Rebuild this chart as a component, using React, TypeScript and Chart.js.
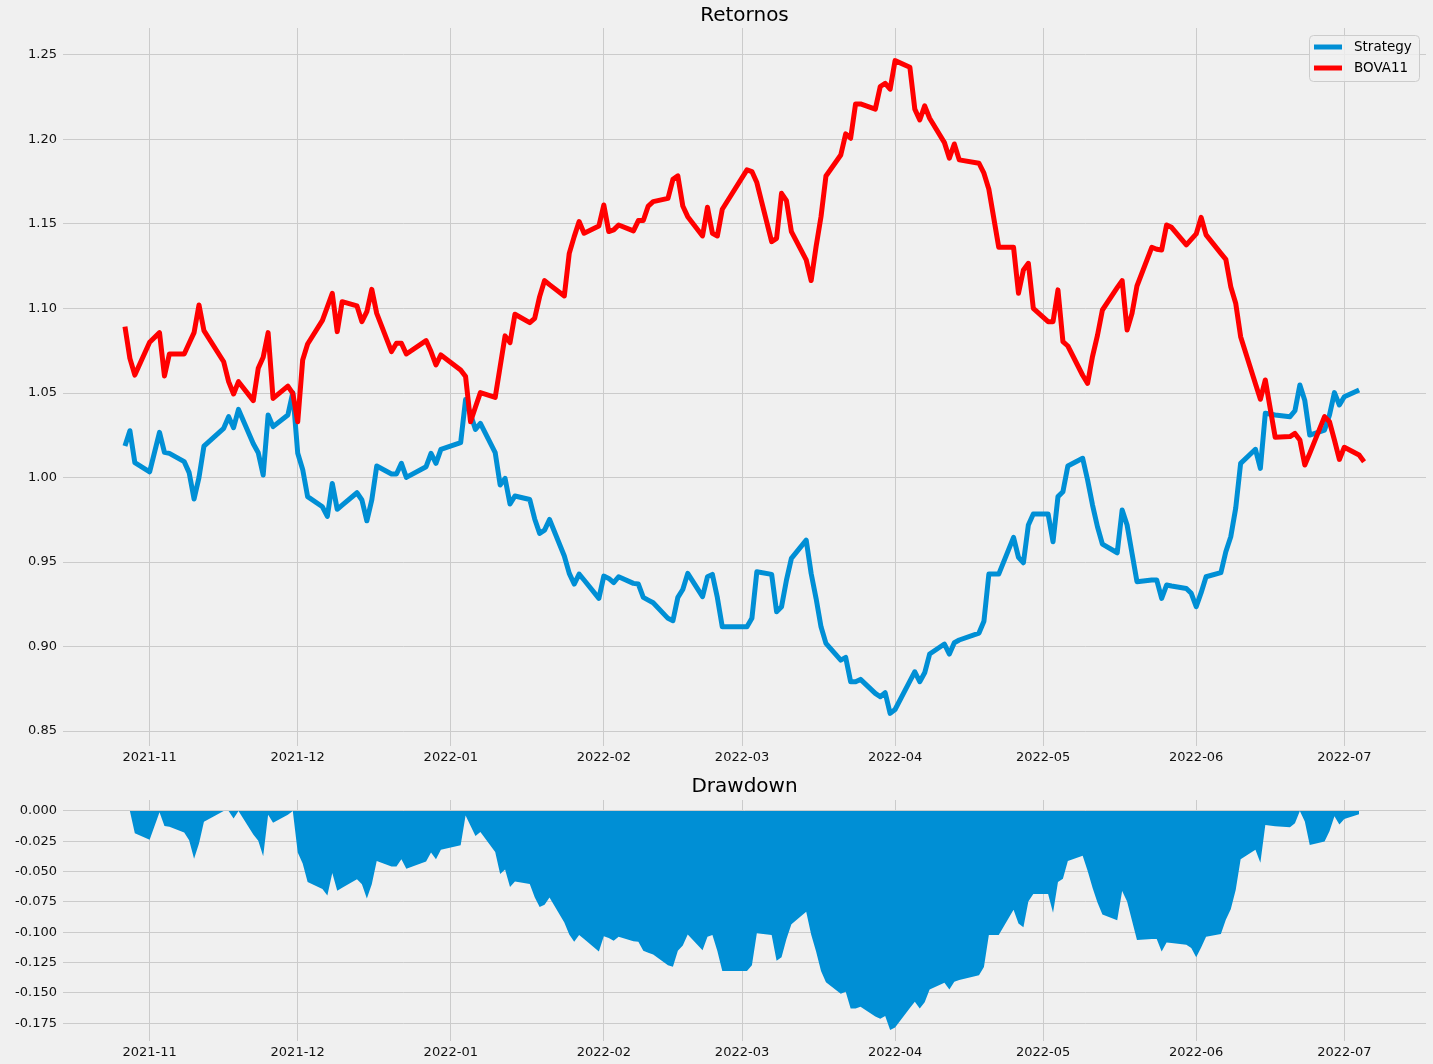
import React, { useEffect, useRef } from "react";
import { Chart, registerables } from "chart.js";

Chart.register(...registerables);

// ---- data (trading sessions) ----
const dates: string[] = [
  "2021-10-27", "2021-10-28", "2021-10-29",
  "2021-11-01", "2021-11-03", "2021-11-04", "2021-11-05", "2021-11-08", "2021-11-09", "2021-11-10", "2021-11-11", "2021-11-12",
  "2021-11-16", "2021-11-17", "2021-11-18", "2021-11-19", "2021-11-22", "2021-11-23", "2021-11-24", "2021-11-25", "2021-11-26",
  "2021-11-29", "2021-11-30",
  "2021-12-01", "2021-12-02", "2021-12-03", "2021-12-06", "2021-12-07", "2021-12-08", "2021-12-09", "2021-12-10", "2021-12-13",
  "2021-12-14", "2021-12-15", "2021-12-16", "2021-12-17", "2021-12-20", "2021-12-21", "2021-12-22", "2021-12-23", "2021-12-27",
  "2021-12-28", "2021-12-29", "2021-12-30",
  "2022-01-03", "2022-01-04", "2022-01-05", "2022-01-06", "2022-01-07", "2022-01-10", "2022-01-11", "2022-01-12", "2022-01-13",
  "2022-01-14", "2022-01-17", "2022-01-18", "2022-01-19", "2022-01-20", "2022-01-21", "2022-01-24", "2022-01-25", "2022-01-26",
  "2022-01-27", "2022-01-28", "2022-01-31",
  "2022-02-01", "2022-02-02", "2022-02-03", "2022-02-04", "2022-02-07", "2022-02-08", "2022-02-09", "2022-02-10", "2022-02-11",
  "2022-02-14", "2022-02-15", "2022-02-16", "2022-02-17", "2022-02-18", "2022-02-21", "2022-02-22", "2022-02-23", "2022-02-24",
  "2022-02-25",
  "2022-03-02", "2022-03-03", "2022-03-04", "2022-03-07", "2022-03-08", "2022-03-09", "2022-03-10", "2022-03-11", "2022-03-14",
  "2022-03-15", "2022-03-16", "2022-03-17", "2022-03-18", "2022-03-21", "2022-03-22", "2022-03-23", "2022-03-24", "2022-03-25",
  "2022-03-28", "2022-03-29", "2022-03-30", "2022-03-31",
  "2022-04-01", "2022-04-04", "2022-04-05", "2022-04-06", "2022-04-07", "2022-04-08", "2022-04-11", "2022-04-12", "2022-04-13",
  "2022-04-14", "2022-04-18", "2022-04-19", "2022-04-20", "2022-04-22", "2022-04-25", "2022-04-26", "2022-04-27", "2022-04-28",
  "2022-04-29",
  "2022-05-02", "2022-05-03", "2022-05-04", "2022-05-05", "2022-05-06", "2022-05-09", "2022-05-10", "2022-05-11", "2022-05-12",
  "2022-05-13", "2022-05-16", "2022-05-17", "2022-05-18", "2022-05-19", "2022-05-20", "2022-05-23", "2022-05-24", "2022-05-25",
  "2022-05-26", "2022-05-27", "2022-05-30", "2022-05-31",
  "2022-06-01", "2022-06-02", "2022-06-03", "2022-06-06", "2022-06-07", "2022-06-08", "2022-06-09", "2022-06-10", "2022-06-13",
  "2022-06-14", "2022-06-15", "2022-06-17", "2022-06-20", "2022-06-21", "2022-06-22", "2022-06-23", "2022-06-24", "2022-06-27",
  "2022-06-28", "2022-06-29", "2022-06-30",
  "2022-07-01", "2022-07-04", "2022-07-05",
];

const strategy: (number | null)[] = [
  1.0186, 1.0277, 1.0088,
  1.0034, 1.0267, 1.0149, 1.0143, 1.0094, 1.0029, 0.9873, 1.0001, 1.0186,
  1.0291, 1.0360, 1.0295, 1.0403, 1.0200, 1.0147, 1.0015, 1.0370, 1.0301,
  1.0370, 1.0502,
  1.0143, 1.0048, 0.9887, 0.9827, 0.9770, 0.9965, 0.9812, 0.9837, 0.9910,
  0.9867, 0.9744, 0.9867, 1.0068, 1.0021, 1.0021, 1.0084, 1.0001, 1.0064,
  1.0143, 1.0084, 1.0167,
  1.0206, 1.0462, 1.0374, 1.0285, 1.0320, 1.0147, 0.9956, 0.9995, 0.9843,
  0.9891, 0.9870, 0.9755, 0.9670, 0.9689, 0.9752, 0.9536, 0.9433, 0.9370,
  0.9429, 0.9394, 0.9285,
  0.9417, 0.9403, 0.9378, 0.9413, 0.9374, 0.9370, 0.9291, 0.9275, 0.9259,
  0.9167, 0.9153, 0.9291, 0.9338, 0.9433, 0.9295, 0.9413, 0.9427, 0.9290,
  0.9117,
  0.9117, 0.9167, 0.9443, 0.9427, 0.9206, 0.9236, 0.9393, 0.9522, 0.9630,
  0.9433, 0.9285, 0.9117, 0.9019, 0.8920, 0.8936, 0.8792, 0.8792, 0.8806,
  0.8723, 0.8703, 0.8727, 0.8605,
  0.8628, 0.8796, 0.8851, 0.8792, 0.8845, 0.8956, 0.9015, 0.8956, 0.9023,
  0.9039, 0.9080, 0.9150, 0.9429, 0.9429, 0.9646, 0.9528, 0.9496, 0.9719,
  0.9784,
  0.9784, 0.9620, 0.9887, 0.9916, 1.0068, 1.0114, 0.9985, 0.9837, 0.9709,
  0.9606, 0.9555, 0.9808, 0.9719, 0.9551, 0.9384, 0.9394, 0.9394, 0.9285,
  0.9364, 0.9358, 0.9344, 0.9315,
  0.9236, 0.9319, 0.9413, 0.9437, 0.9561, 0.9650, 0.9818, 1.0084, 1.0167,
  1.0054, 1.0380, 1.0370, 1.0360, 1.0395, 1.0547, 1.0455, 1.0251, 1.0281,
  1.0370, 1.0502, 1.0429,
  1.0478, 1.0518, null,
];

const bova11: number[] = [
  1.0892, 1.0705, 1.0606,
  1.0800, 1.0857, 1.0601, 1.0731, 1.0731, 1.0794, 1.0857, 1.1021, 1.0869,
  1.0685, 1.0567, 1.0494, 1.0567, 1.0455, 1.0646, 1.0711, 1.0857, 1.0468,
  1.0541, 1.0498,
  1.0330, 1.0695, 1.0790, 1.0930, 1.1010, 1.1090, 1.0863, 1.1040, 1.1015,
  1.0922, 1.0981, 1.1113, 1.0971, 1.0745, 1.0794, 1.0794, 1.0731, 1.0810,
  1.0745, 1.0666, 1.0725,
  1.0636, 1.0597, 1.0330, 1.0417, 1.0502, 1.0474, 1.0656, 1.0838, 1.0798,
  1.0966, 1.0916, 1.0942, 1.1070, 1.1165, 1.1141, 1.1074, 1.1326, 1.1425,
  1.1514, 1.1445, 1.1488,
  1.1612, 1.1455, 1.1465, 1.1494, 1.1459, 1.1520, 1.1520, 1.1606, 1.1632,
  1.1651, 1.1764, 1.1784, 1.1606, 1.1543, 1.1429, 1.1599, 1.1445, 1.1429,
  1.1587,
  1.1820, 1.1810, 1.1745, 1.1395, 1.1415, 1.1681, 1.1638, 1.1455, 1.1287,
  1.1165, 1.1366, 1.1543, 1.1784, 1.1908, 1.2033, 1.2007, 1.2210, 1.2210,
  1.2179, 1.2313, 1.2332, 1.2297,
  1.2466, 1.2427, 1.2179, 1.2115, 1.2198, 1.2125, 1.1981, 1.1889, 1.1973,
  1.1879, 1.1859, 1.1800, 1.1705, 1.1362, 1.1362, 1.1090, 1.1228, 1.1267,
  1.1001,
  1.0922, 1.0922, 1.1110, 1.0804, 1.0778, 1.0605, 1.0557, 1.0717, 1.0841,
  1.0991, 1.1123, 1.1165, 1.0873, 1.0971, 1.1133, 1.1362, 1.1350, 1.1346,
  1.1494, 1.1480, 1.1376, 1.1409,
  1.1441, 1.1539, 1.1435, 1.1326, 1.1291, 1.1129, 1.1031, 1.0833, 1.0555,
  1.0463, 1.0577, 1.0238, 1.0242, 1.0261, 1.0222, 1.0074, 1.0143, 1.0360,
  1.0330, 1.0222, 1.0107,
  1.0179, 1.0133, 1.0094,
];

const monthTicks: string[] = [
  "2021-11-01", "2021-12-01", "2022-01-01", "2022-02-01", "2022-03-01",
  "2022-04-01", "2022-05-01", "2022-06-01", "2022-07-01",
];
const returnTicks: number[] = [0.85, 0.9, 0.95, 1.0, 1.05, 1.1, 1.15, 1.2, 1.25];
const drawdownTicks: number[] = [0, -0.025, -0.05, -0.075, -0.1, -0.125, -0.15, -0.175];

// ---- helpers ----
const DAY = 86400000;
const toDay = (s: string) =>
  Date.UTC(+s.slice(0, 4), +s.slice(5, 7) - 1, +s.slice(8, 10)) / DAY;
const fmtMonth = (v: number) => {
  const d = new Date(Math.round(v) * DAY);
  return `${d.getUTCFullYear()}-${String(d.getUTCMonth() + 1).padStart(2, "0")}`;
};

const xs = dates.map(toDay);

// Drawdown of the Strategy curve (value / running peak - 1)
let peak = -Infinity;
const drawdown: (number | null)[] = strategy.map((v) => {
  if (v == null) return null;
  peak = Math.max(peak, v);
  return v / peak - 1;
});

// matplotlib-like 5% margins
const withMargin = (lo: number, hi: number) => {
  const m = (hi - lo) * 0.05;
  return [lo - m, hi + m];
};
const [xMin, xMax] = withMargin(xs[0], xs[xs.length - 1]);
const retVals = [...strategy, ...bova11].filter((v): v is number => v != null);
const [yMin, yMax] = withMargin(Math.min(...retVals), Math.max(...retVals));
const ddVals = drawdown.filter((v): v is number => v != null);
const [dMin, dMax] = withMargin(Math.min(0, ...ddVals), Math.max(0, ...ddVals));

const BLUE = "#008fd5";
const RED = "#ff0000";
const GRID = "#cbcbcb";
const FONT = "'DejaVu Sans', sans-serif";

Chart.defaults.font.family = FONT;
Chart.defaults.font.size = 13;
Chart.defaults.color = "#111";

const titlePlugin = (id: string, text: string, y: number) => ({
  id,
  afterDraw(chart: any) {
    const { ctx, chartArea } = chart;
    ctx.save();
    ctx.font = `20px ${FONT}`;
    ctx.fillStyle = "#000";
    ctx.textAlign = "center";
    ctx.textBaseline = "middle";
    ctx.fillText(text, (chartArea.left + chartArea.right) / 2, y);
    ctx.restore();
  },
});

const legendPlugin = {
  id: "boxLegend",
  afterDraw(chart: any) {
    const { ctx } = chart;
    const x = 1309.5, y = 35.5, w = 110, h = 46, r = 4;
    ctx.save();
    ctx.beginPath();
    ctx.moveTo(x + r, y);
    ctx.lineTo(x + w - r, y);
    ctx.quadraticCurveTo(x + w, y, x + w, y + r);
    ctx.lineTo(x + w, y + h - r);
    ctx.quadraticCurveTo(x + w, y + h, x + w - r, y + h);
    ctx.lineTo(x + r, y + h);
    ctx.quadraticCurveTo(x, y + h, x, y + h - r);
    ctx.lineTo(x, y + r);
    ctx.quadraticCurveTo(x, y, x + r, y);
    ctx.closePath();
    ctx.fillStyle = "rgba(240,240,240,0.8)";
    ctx.fill();
    ctx.strokeStyle = "#cccccc";
    ctx.lineWidth = 1;
    ctx.stroke();
    chart.data.datasets.forEach((ds: any, i: number) => {
      const ly = 47 + i * 21;
      ctx.beginPath();
      ctx.moveTo(1314, ly);
      ctx.lineTo(1342, ly);
      ctx.strokeStyle = ds.borderColor;
      ctx.lineWidth = 5;
      ctx.stroke();
      ctx.font = `13.5px ${FONT}`;
      ctx.fillStyle = "#000";
      ctx.textAlign = "left";
      ctx.textBaseline = "middle";
      ctx.fillText(ds.label, 1354, ly + 0.5);
    });
    ctx.restore();
  },
};

const xScale = (height: number) => ({
  type: "linear" as const,
  min: xMin,
  max: xMax,
  afterBuildTicks: (scale: any) => {
    scale.ticks = monthTicks.map((m) => ({ value: toDay(m) }));
  },
  afterFit: (scale: any) => {
    scale.height = height;
  },
  ticks: {
    autoSkip: false,
    maxRotation: 0,
    padding: 4,
    color: "#111",
    font: { size: 13 },
    callback: (v: any) => fmtMonth(Number(v)),
  },
  grid: { color: GRID, lineWidth: 1, drawTicks: false },
  border: { display: false },
});

const yScale = (min: number, max: number, ticks: number[], digits: number) => ({
  type: "linear" as const,
  min,
  max,
  afterBuildTicks: (scale: any) => {
    scale.ticks = ticks.map((v) => ({ value: v }));
  },
  afterFit: (scale: any) => {
    scale.width = 63;
  },
  ticks: {
    padding: 6,
    color: "#111",
    font: { size: 13 },
    callback: (v: any) => Number(v).toFixed(digits),
  },
  grid: { color: GRID, lineWidth: 1, drawTicks: false },
  border: { display: false },
});

export default function App() {
  const topRef = useRef<HTMLCanvasElement>(null);
  const botRef = useRef<HTMLCanvasElement>(null);

  useEffect(() => {
    const top = new Chart(topRef.current as HTMLCanvasElement, {
      type: "line",
      data: {
        datasets: [
          {
            label: "Strategy",
            data: xs.map((x, i) => ({ x, y: strategy[i] })) as any,
            borderColor: BLUE,
            backgroundColor: BLUE,
            borderWidth: 5,
            pointRadius: 0,
            tension: 0,
            borderJoinStyle: "round",
            order: 2,
          },
          {
            label: "BOVA11",
            data: xs.map((x, i) => ({ x, y: bova11[i] })) as any,
            borderColor: RED,
            backgroundColor: RED,
            borderWidth: 5,
            pointRadius: 0,
            tension: 0,
            borderJoinStyle: "round",
            order: 1,
          },
        ],
      },
      options: {
        animation: false,
        responsive: false,
        devicePixelRatio: 1,
        layout: { padding: { top: 28, right: 7, left: 0, bottom: 0 } },
        plugins: { legend: { display: false }, tooltip: { enabled: false }, title: { display: false } },
        scales: {
          x: xScale(24) as any,
          y: yScale(yMin, yMax, returnTicks, 2) as any,
        },
      },
      plugins: [titlePlugin("titleTop", "Retornos", 16), legendPlugin],
    });

    const bot = new Chart(botRef.current as HTMLCanvasElement, {
      type: "line",
      data: {
        datasets: [
          {
            label: "Drawdown",
            data: xs.map((x, i) => ({ x, y: drawdown[i] })) as any,
            borderColor: BLUE,
            backgroundColor: BLUE,
            borderWidth: 0,
            pointRadius: 0,
            tension: 0,
            fill: "origin",
          },
        ],
      },
      options: {
        animation: false,
        responsive: false,
        devicePixelRatio: 1,
        layout: { padding: { top: 30, right: 7, left: 0, bottom: 0 } },
        plugins: { legend: { display: false }, tooltip: { enabled: false }, title: { display: false } },
        scales: {
          x: xScale(23) as any,
          y: yScale(dMin, dMax, drawdownTicks, 3) as any,
        },
      },
      plugins: [titlePlugin("titleBottom", "Drawdown", 17)],
    });

    return () => {
      top.destroy();
      bot.destroy();
    };
  }, []);

  return (
    <div
      style={{
        position: "absolute",
        left: 0,
        top: 0,
        width: 1433,
        height: 1064,
        background: "#f0f0f0",
        overflow: "hidden",
      }}
    >
      <canvas
        ref={topRef}
        width={1433}
        height={770}
        style={{ position: "absolute", left: 0, top: 0, width: 1433, height: 770 }}
      />
      <canvas
        ref={botRef}
        width={1433}
        height={294}
        style={{ position: "absolute", left: 0, top: 770, width: 1433, height: 294 }}
      />
    </div>
  );
}
